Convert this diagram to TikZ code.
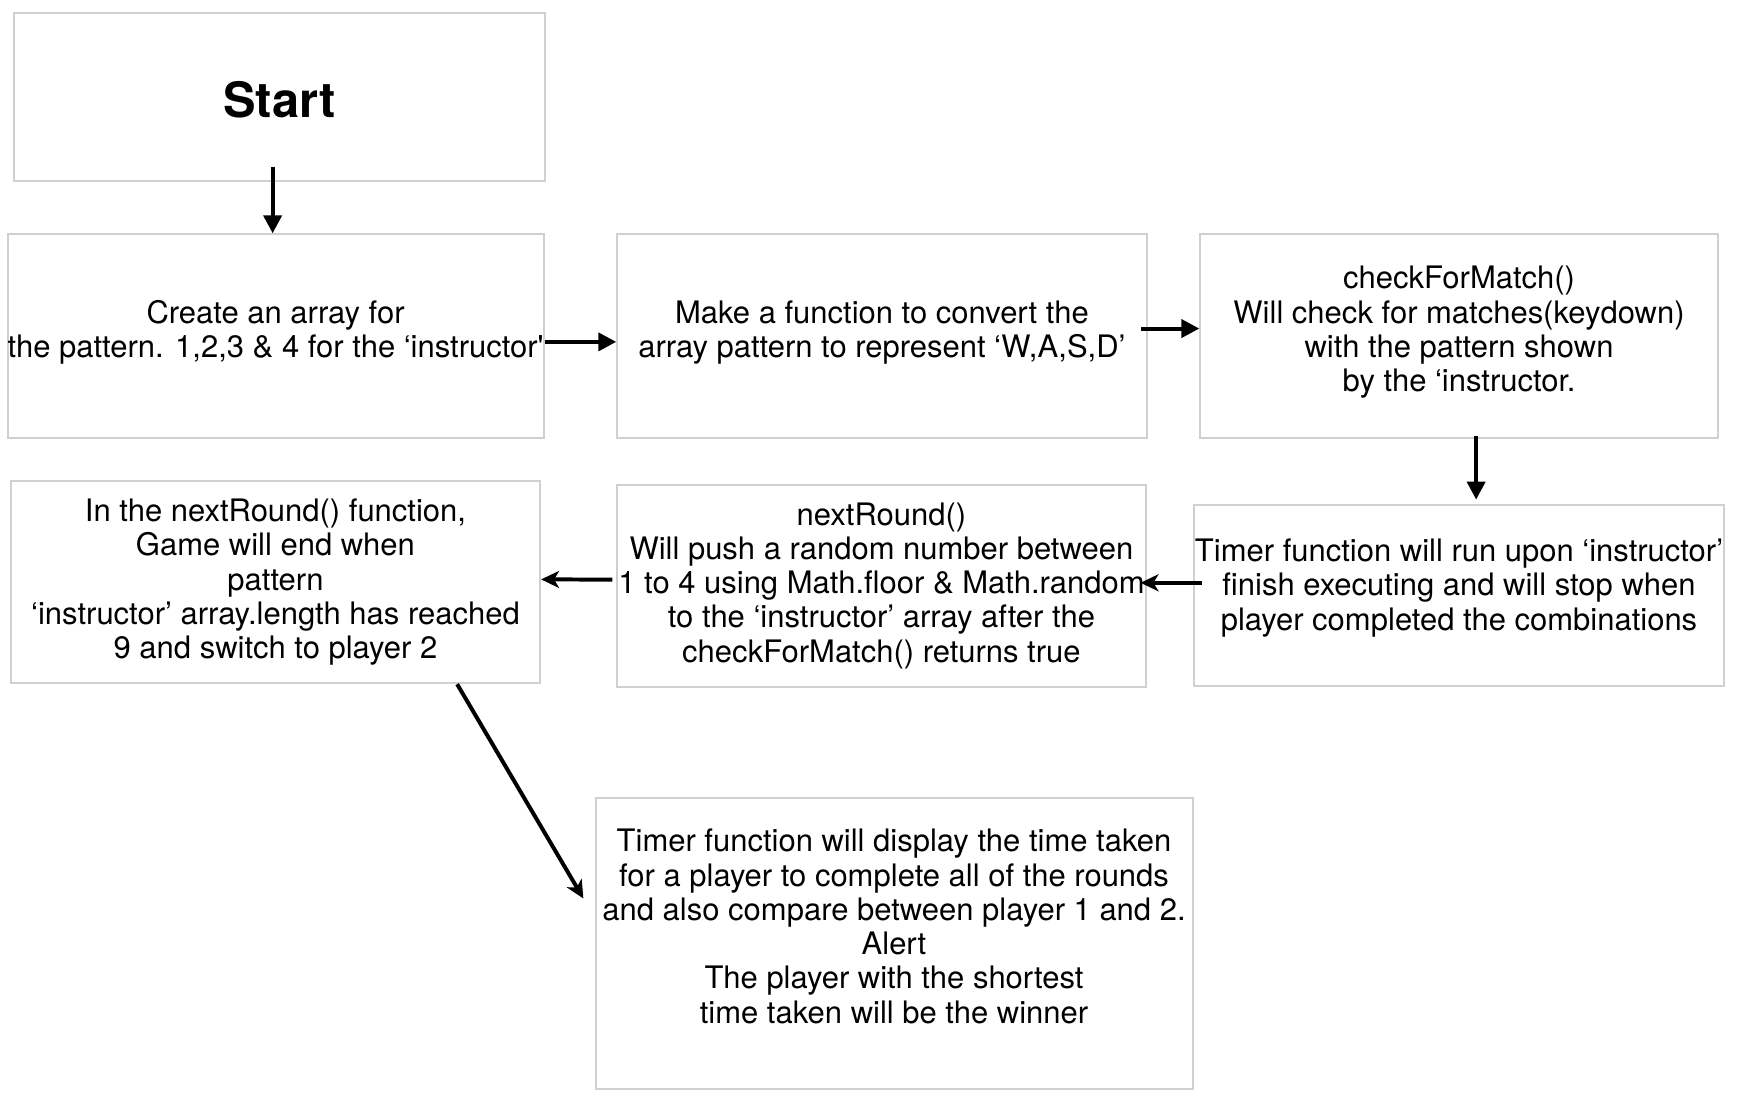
\documentclass[tikz,border=0pt]{standalone}
\usepackage{fontspec}
\setmainfont{TeX Gyre Heros}[Ligatures=TeXOff]
\usetikzlibrary{positioning,arrows.meta}
\definecolor{mygray}{RGB}{208,208,208}

\begin{document}
\begin{tikzpicture}[x=0.5pt,y=-0.5pt,
  pnode/.style={draw=mygray,line width=1pt,inner sep=0pt,align=center,
    font=\fontsize{15.57pt}{17.2pt}\selectfont},
  snode/.style={pnode,font=\fontsize{24.5pt}{28pt}\selectfont\bfseries},
  conn/.style={line width=2pt,-{Triangle[length=9pt,width=9pt]}},
  bconn/.style={line width=2pt,-{Stealth[length=9pt,width=8.5pt,inset=2.5pt]}}]

  \path[use as bounding box] (0,0) rectangle (1746.7,1107.5);

  \node[snode,minimum width=266.5pt,minimum height=84pt,text height=21pt,text depth=0pt] (box1) at (281,97.5) {Start};

  \node[pnode,minimum width=266pt,minimum height=102.5pt,text depth=7.4pt,below=26pt of box1,xshift=-2pt] (box2)
    {Create an array for\\the pattern. 1,2,3 \& 4 for the ‘instructor'};
  \node[pnode,minimum width=266pt,minimum height=102.5pt,text depth=7.4pt,right=36pt of box2] (box3)
    {Make a function to convert the\\array pattern to represent ‘W,A,S,D’};
  \node[pnode,minimum width=260pt,minimum height=102.5pt,text depth=7.4pt,right=26pt of box3] (box4)
    {checkForMatch()\\Will check for matches(keydown)\\with the pattern shown\\by the ‘instructor.};

  % second row runs right to left
  \node[pnode,minimum width=266.5pt,minimum height=91pt,text depth=11pt,below=32.5pt of box4] (box5)
    {Timer function will run upon ‘instructor’\\finish executing and will stop when\\player completed the combinations};
  \node[pnode,minimum width=266pt,minimum height=101.5pt,left=23pt of box5,yshift=5pt] (box6)
    {nextRound()\\Will push a random number between\\1 to 4 using Math.floor \& Math.random\\to the ‘instructor’ array after the\\checkForMatch() returns true};
  \node[pnode,minimum width=266pt,minimum height=101.5pt,left=37.5pt of box6,yshift=1.7pt] (box7)
    {In the nextRound() function,\\Game will end when\\pattern\\‘instructor’ array.length has reached\\9 and switch to player 2};

  \node[pnode,minimum width=300pt,minimum height=146pt,text depth=17.25pt] (box8) at (898.5,948)
    {Timer function will display the time taken\\for a player to complete all of the rounds\\and also compare between player 1 and 2.\\Alert\\The player with the shortest\\time taken will be the winner};

  % arrows
  \draw[conn] ([xshift=-3.5pt,yshift=7.5pt]box1.south) -- ([xshift=-1.5pt]box2.north);
  \draw[conn] ([yshift=-2.8pt]box2.east) -- ([yshift=-2.8pt]box3.west);
  \draw[conn] ([xshift=-3.3pt,yshift=3.9pt]box3.east) -- ([yshift=3.9pt]box4.west);
  \draw[conn] ([xshift=8.6pt,yshift=1.7pt]box4.south) -- ([xshift=8.6pt,yshift=2.2pt]box5.north);
  \draw[bconn] ([xshift=4.5pt,yshift=6.4pt]box5.west) -- ([xshift=-3.3pt,yshift=1.4pt]box6.east);
  \draw[bconn] ([xshift=-1.7pt,yshift=3pt]box6.west) -- ([yshift=1.4pt]box7.east);
  \draw[bconn] ([xshift=91.3pt]box7.south) -- ([xshift=-5.6pt,yshift=22.5pt]box8.west);

\end{tikzpicture}
\end{document}
